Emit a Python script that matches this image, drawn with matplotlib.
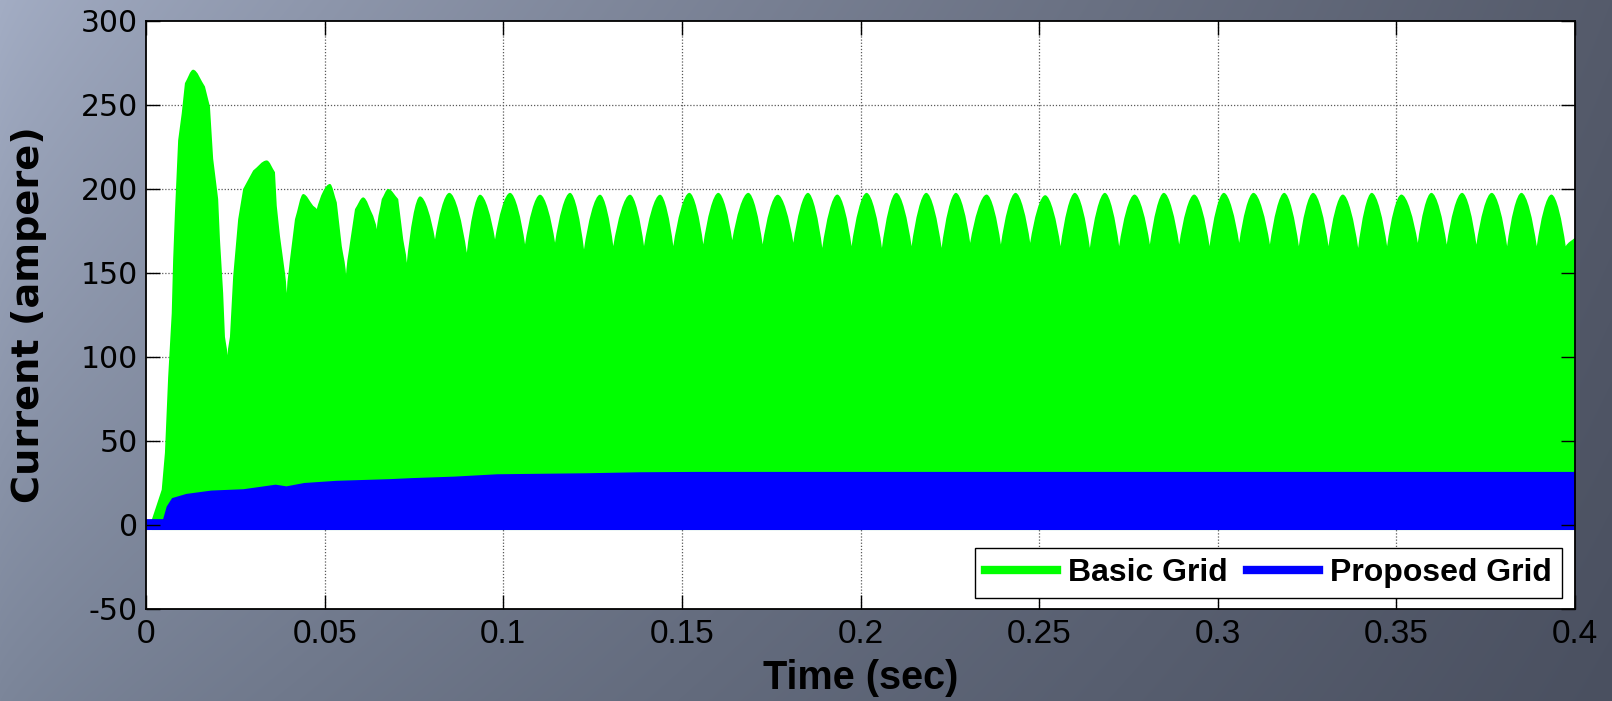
import numpy as np
import matplotlib
matplotlib.use("Agg")
import matplotlib.pyplot as plt
from matplotlib.path import Path
from matplotlib.patches import PathPatch
from matplotlib.lines import Line2D

plt.rcParams['font.family'] = ['Liberation Sans', 'DejaVu Sans']

# ---------------------------------------------------------------------------
# Basic grid current: upper envelope of the switched current (time s, A)
# start-up transient
basic_start_t = [0.0016, 0.0044, 0.0053, 0.0062, 0.0072, 0.0076, 0.0081, 0.0090,
                 0.0100, 0.0109, 0.0132, 0.0165, 0.0179, 0.0188, 0.0202, 0.0207,
                 0.0216, 0.0221, 0.0228, 0.0235, 0.0244, 0.0258, 0.0272, 0.0300,
                 0.0338, 0.0361, 0.0366, 0.0375, 0.0389, 0.0394, 0.0403, 0.0417,
                 0.0440, 0.0468, 0.0478, 0.0515, 0.0534, 0.0548, 0.0560, 0.0571,
                 0.0585, 0.0608, 0.0636, 0.0646, 0.0660, 0.0678, 0.0706, 0.0720,
                 0.0730]
basic_start_i = [3, 21, 43, 88, 126, 158, 186, 229,
                 245, 263, 271, 261, 249, 218, 194, 170,
                 138, 112, 101, 112, 148, 182, 200, 211,
                 217, 210, 190, 172, 150, 138, 158, 182,
                 197, 190, 188, 203, 192, 166, 149, 168,
                 188, 195, 184, 176, 194, 200, 194, 170,
                 156]

# steady-state ripple crests
basic_peak_t = [0.0767, 0.0849, 0.0935, 0.1019, 0.1103, 0.1187, 0.1271, 0.1355,
                0.1439, 0.1521, 0.1602, 0.1686, 0.1768, 0.1853, 0.1935, 0.2017,
                0.2100, 0.2184, 0.2267, 0.2353, 0.2434, 0.2517, 0.2600, 0.2684,
                0.2767, 0.2849, 0.2934, 0.3017, 0.3100, 0.3186, 0.3267, 0.3350,
                0.3431, 0.3514, 0.3598, 0.3684, 0.3767, 0.3850, 0.3934]
basic_peak_i = [195.6, 197.7, 196.6, 197.7, 196.6, 197.7, 196.6, 196.6,
                196.6, 197.7, 197.7, 197.7, 196.6, 197.7, 196.7, 197.7,
                197.7, 197.7, 197.7, 196.7, 197.7, 196.3, 197.7, 197.7,
                196.7, 197.7, 196.7, 197.7, 197.7, 197.7, 197.7, 196.7,
                197.7, 196.7, 197.7, 197.7, 197.7, 197.7, 196.7]

# steady-state ripple valleys
basic_trough_t = [0.0809, 0.0898, 0.0977, 0.1061, 0.1145, 0.1226, 0.1308, 0.1394,
                  0.1476, 0.1560, 0.1641, 0.1726, 0.1812, 0.1893, 0.1975, 0.2060,
                  0.2143, 0.2227, 0.2307, 0.2393, 0.2475, 0.2560, 0.2642, 0.2724,
                  0.2810, 0.2892, 0.2977, 0.3060, 0.3146, 0.3227, 0.3310, 0.3393,
                  0.3474, 0.3560, 0.3641, 0.3724, 0.3810, 0.3893, 0.3974]
basic_trough_i = [170.0, 162.0, 170.0, 167.0, 168.0, 164.0, 166.0, 166.0,
                  166.0, 167.0, 169.5, 167.0, 168.0, 164.9, 165.9, 164.9,
                  165.9, 164.9, 167.9, 166.9, 167.9, 165.9, 164.9, 165.9,
                  166.9, 166.9, 165.9, 167.9, 166.9, 165.9, 165.9, 164.9,
                  165.9, 167.9, 166.9, 166.9, 165.9, 165.9, 165.9]

basic_end_t = [0.4000]
basic_end_i = [171.0]
basic_floor = -3.0

# Proposed grid current: upper envelope (time s, A)
proposed_t = [0.0, 0.0048, 0.0058, 0.0073, 0.0113, 0.0183, 0.0273, 0.0363,
              0.0393, 0.0443, 0.0533, 0.0683, 0.0743, 0.0863, 0.0983, 0.1233,
              0.1383, 0.1542, 0.4000]
proposed_i = [3.5, 3.5, 11.0, 16.0, 18.5, 20.5, 21.3, 24.0,
              23.0, 25.0, 26.3, 27.3, 27.9, 28.8, 30.2, 30.8,
              31.4, 31.6, 31.6]
proposed_floor = -3.0

x_ticks = [0, 0.05, 0.1, 0.15, 0.2, 0.25, 0.3, 0.35, 0.4]
x_labels = ['0', '0.05', '0.1', '0.15', '0.2', '0.25', '0.3', '0.35', '0.4']
y_ticks = [-50, 0, 50, 100, 150, 200, 250, 300]
y_labels = ['-50', '0', '50', '100', '150', '200', '250', '300']
series_names = ['Basic Grid', 'Proposed Grid']
series_colors = ['#00ff00', '#0000ff']
# ---------------------------------------------------------------------------


def envelope_patch(t, v, floor, color, smooth=True):
    """Filled region between `floor` and the envelope through (t, v).
    Crests are drawn rounded, valleys as sharp cusps."""
    t = np.asarray(t, float)
    v = np.asarray(v, float)
    n = len(t)
    is_max = np.zeros(n, bool)
    is_min = np.zeros(n, bool)
    if smooth and n > 2:
        is_max[1:-1] = (v[1:-1] > v[:-2]) & (v[1:-1] > v[2:])
        is_min[1:-1] = (v[1:-1] < v[:-2]) & (v[1:-1] < v[2:])
    verts = [(t[0], floor), (t[0], v[0])]
    codes = [Path.MOVETO, Path.LINETO]
    for a in range(n - 1):
        b = a + 1
        dt = t[b] - t[a]
        dv = v[b] - v[a]
        if is_max[a]:
            c1 = (t[a] + 0.35 * dt, v[a])
        elif is_min[a]:
            c1 = (t[a] + 0.25 * dt, v[a] + 0.5 * dv)
        else:
            c1 = (t[a] + dt / 3, v[a] + dv / 3)
        if is_max[b]:
            c2 = (t[b] - 0.35 * dt, v[b])
        elif is_min[b]:
            c2 = (t[b] - 0.25 * dt, v[b] - 0.5 * dv)
        else:
            c2 = (t[b] - dt / 3, v[b] - dv / 3)
        verts += [c1, c2, (t[b], v[b])]
        codes += [Path.CURVE4] * 3
    verts += [(t[-1], floor), (t[0], floor)]
    codes += [Path.LINETO, Path.CLOSEPOLY]
    return PathPatch(Path(verts, codes), facecolor=color, edgecolor='none',
                     antialiased=True)


# assemble the basic-grid envelope in time order
ss_t = np.empty(len(basic_peak_t) + len(basic_trough_t))
ss_i = np.empty_like(ss_t)
ss_t[0::2], ss_t[1::2] = basic_peak_t, basic_trough_t
ss_i[0::2], ss_i[1::2] = basic_peak_i, basic_trough_i
basic_t = np.concatenate([basic_start_t, ss_t, basic_end_t])
basic_i = np.concatenate([basic_start_i, ss_i, basic_end_i])

W, H = 1612, 701
fig = plt.figure(figsize=(W / 100, H / 100), dpi=100)

# slide-style background: light steel blue on the left, dark slate on the right
xx = np.linspace(0, 1, W)[None, :, None]
yy = np.linspace(0, 1, H)[:, None, None]
tl = np.array([0xa3, 0xad, 0xc4]) / 255
tr = np.array([0x55, 0x5b, 0x6b]) / 255
bl = np.array([0x7c, 0x86, 0x9a]) / 255
br = np.array([0x4a, 0x50, 0x60]) / 255
xs = xx ** 0.8
bg = (1 - yy) * ((1 - xs) * tl + xs * tr) + yy * ((1 - xs) * bl + xs * br)
fig.figimage(np.clip(bg, 0, 1), 0, 0, origin='upper', zorder=-10)

ax = fig.add_axes([146 / W, 92 / H, 1429 / W, 588 / H])
ax.set_zorder(1)
ax.set_facecolor('white')
ax.set_xlim(0, 0.4)
ax.set_ylim(-50, 300)

# dotted grid underneath the traces
ax.vlines(x_ticks[1:-1], -50, 300, colors='0.35', linestyles=(0, (1, 1.5)),
          linewidth=0.9, zorder=0.5)
ax.hlines(y_ticks[1:-1], 0, 0.4, colors='0.35', linestyles=(0, (1, 1.5)),
          linewidth=0.9, zorder=0.5)

ax.add_patch(envelope_patch(basic_t, basic_i, basic_floor, series_colors[0]))
ax.add_patch(envelope_patch(proposed_t, proposed_i, proposed_floor,
                            series_colors[1], smooth=False))

ax.set_xticks(x_ticks)
ax.set_xticklabels(x_labels, fontsize=24, family=['Liberation Sans', 'DejaVu Sans'])
ax.set_yticks(y_ticks)
ax.set_yticklabels(y_labels, fontsize=21.5, family=['DejaVu Sans'])
ax.tick_params(axis='both', direction='in', length=10, width=1.0,
               top=True, right=True, colors='black')
ax.tick_params(axis='x', pad=7)
ax.tick_params(axis='y', pad=6)
for s in ax.spines.values():
    s.set_linewidth(1.3)
    s.set_color('black')

ax.set_xlabel('Time (sec)', fontsize=28.5, fontweight='bold')
ax.set_ylabel('Current (ampere)', fontsize=27.5, fontweight='bold',
              family=['DejaVu Sans'])
ax.xaxis.set_label_coords(0.5, -0.085)
ax.yaxis.set_label_coords(-0.069, 0.5)

handles = [Line2D([], [], color=c, linewidth=6) for c in series_colors]
leg = ax.legend(handles, series_names, loc='lower left',
                bbox_to_anchor=(0.580, 0.0187), ncol=2, frameon=True,
                fancybox=False, framealpha=1, edgecolor='black',
                borderaxespad=0, borderpad=0.32, handlelength=2.25,
                handletextpad=0.35, columnspacing=0.6,
                prop={'size': 23, 'weight': 'bold'})
leg.get_frame().set_linewidth(1.0)

fig.savefig('out.png', dpi=100)
